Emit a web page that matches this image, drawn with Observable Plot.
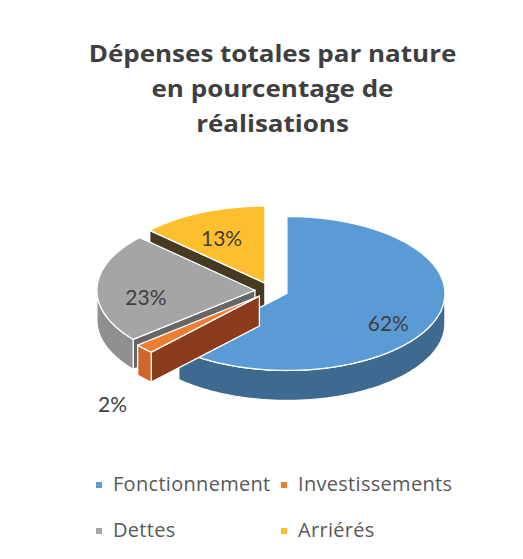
<!DOCTYPE html>
<html>
<head>
<meta charset="utf-8">
<script src="https://cdn.jsdelivr.net/npm/d3@7"></script>
<script src="https://cdn.jsdelivr.net/npm/@observablehq/plot@0.6"></script>
<style>
  html, body { margin: 0; padding: 0; background: #ffffff; }
  #wrap { position: relative; width: 523px; height: 559px; overflow: hidden; font-family: "Open Sans", Lato, sans-serif; }
  #title { position: absolute; left: 11px; top: 36px; width: 523px; text-align: center; font-weight: 700; font-size: 22.5px; line-height: 35px; color: #3f3f3f; transform: scaleX(1.155); transform-origin: 50% 50%; }
  #chart { position: absolute; left: 0; top: 160px; }
  .leg { position: absolute; font-size: 20px; line-height: 20px; letter-spacing: 0.3px; color: #595959; white-space: nowrap; }
  .sw { position: absolute; width: 6px; height: 6px; }
</style>
</head>
<body>
<div id="wrap">
  <div id="title">Dépenses totales par nature<br>en pourcentage de<br>réalisations</div>
  <div id="chart"></div>
  <div id="legend"></div>
</div>
<script>
// ---- data ----
const categories = ["Fonctionnement", "Investissements", "Dettes", "Arriérés"];
const values = [62, 2, 23, 13];
const labels = ["62%", "2%", "23%", "13%"];

// ---- styles ----
const topColors = ["#5b9bd5", "#ed7d31", "#a5a5a5", "#fdbf2d"];
const wallColors = ["#3e6a90", "#d0662c", "#8f8f8f", "#b98a1e"];
const cutColors = ["#2f5273", "#8a3b1b", "#666666", "#473a22"];

// ---- geometry (unit pie, projected by the x/y scales) ----
const W = 523, H = 300;
const cx = 271, cy = 130, rx = 158, ry = 77;
const depth = 30 / ry;      // thickness in y-units
const explode = 0.105;
const total = d3.sum(values);

const P = (t) => [Math.sin(t), -Math.cos(t)];
const step = Math.PI / 180;
function arc(a, b) {
  const pts = [];
  const n = Math.max(2, Math.ceil((b - a) / step));
  for (let i = 0; i <= n; i++) pts.push(P(a + (b - a) * i / n));
  return pts;
}

let acc = 0;
const slices = values.map((v, i) => {
  const a0 = acc / total * 2 * Math.PI;
  acc += v;
  const a1 = acc / total * 2 * Math.PI;
  const m = (a0 + a1) / 2;
  const o = [explode * Math.sin(m), -explode * Math.cos(m)];
  return {i, a0, a1, m, o, v};
});

const faceRows = [];
let fid = 0;
function addFace(pts, fill, o) {
  const id = fid++;
  const closed = pts.concat([pts[0]]);
  for (const [x, y] of closed) faceRows.push({id, x: x + o[0], y: y + o[1], fill});
}

// back-to-front order
const order = slices.slice().sort((a, b) => (-Math.cos(a.m)) - (-Math.cos(b.m)));
for (const s of order) {
  const {a0, a1, o, i} = s;
  if (Math.sin(a0) < -1e-6) {
    const [ex, ey] = P(a0);
    addFace([[0, 0], [ex, ey], [ex, ey + depth], [0, depth]], cutColors[i], o);
  }
  if (Math.sin(a1) > 1e-6) {
    const [ex, ey] = P(a1);
    addFace([[0, 0], [ex, ey], [ex, ey + depth], [0, depth]], cutColors[i], o);
  }
  const w0 = Math.max(a0, Math.PI / 2), w1 = Math.min(a1, 3 * Math.PI / 2);
  if (w1 > w0) {
    const topArc = arc(w0, w1);
    const bottomArc = topArc.map(([x, y]) => [x, y + depth]).reverse();
    addFace(topArc.concat(bottomArc), wallColors[i], o);
  }
  addFace([[0, 0]].concat(arc(a0, a1)), topColors[i], o);
}

// data labels
const labelRows = slices.map((s) => {
  const share = s.v / total;
  if (share >= 0.05) {
    const R = 0.82;
    return {x: R * Math.sin(s.m) * 0.97, y: -R * Math.cos(s.m) * 1.05 + depth * 0.32, text: labels[s.i]};
  } else {
    const R = 1.38;
    return {x: R * Math.sin(s.m), y: -R * Math.cos(s.m) + depth + 12 / ry, text: labels[s.i]};
  }
});

const chart = Plot.plot({
  width: W,
  height: H,
  margin: 0,
  style: {fontFamily: "Lato, sans-serif", background: "transparent", overflow: "visible"},
  x: {domain: [(0 - cx) / rx, (W - cx) / rx], range: [0, W], axis: null},
  y: {domain: [(0 - cy) / ry, (H - cy) / ry], range: [0, H], axis: null},
  color: {type: "identity"},
  marks: [
    Plot.line(faceRows, {x: "x", y: "y", z: "id", fill: "fill", stroke: "#ffffff", strokeWidth: 1.3, strokeLinejoin: "round", curve: "linear"}),
    Plot.text(labelRows, {x: "x", y: "y", text: "text", fontSize: 21, fill: "#404040", fontFamily: "Lato, sans-serif"})
  ]
});
document.getElementById("chart").appendChild(chart);

// legend
const legend = document.getElementById("legend");
const legPos = [[113, 474], [298, 474], [113, 520], [298, 520]];
categories.forEach((c, i) => {
  const [lx, ly] = legPos[i];
  const sw = document.createElement("div");
  sw.className = "sw";
  sw.style.left = (lx - 17) + "px";
  sw.style.top = (ly + 8) + "px";
  sw.style.background = topColors[i];
  legend.appendChild(sw);
  const t = document.createElement("div");
  t.className = "leg";
  t.style.left = lx + "px";
  t.style.top = ly + "px";
  t.textContent = c;
  legend.appendChild(t);
});
</script>
</body>
</html>
